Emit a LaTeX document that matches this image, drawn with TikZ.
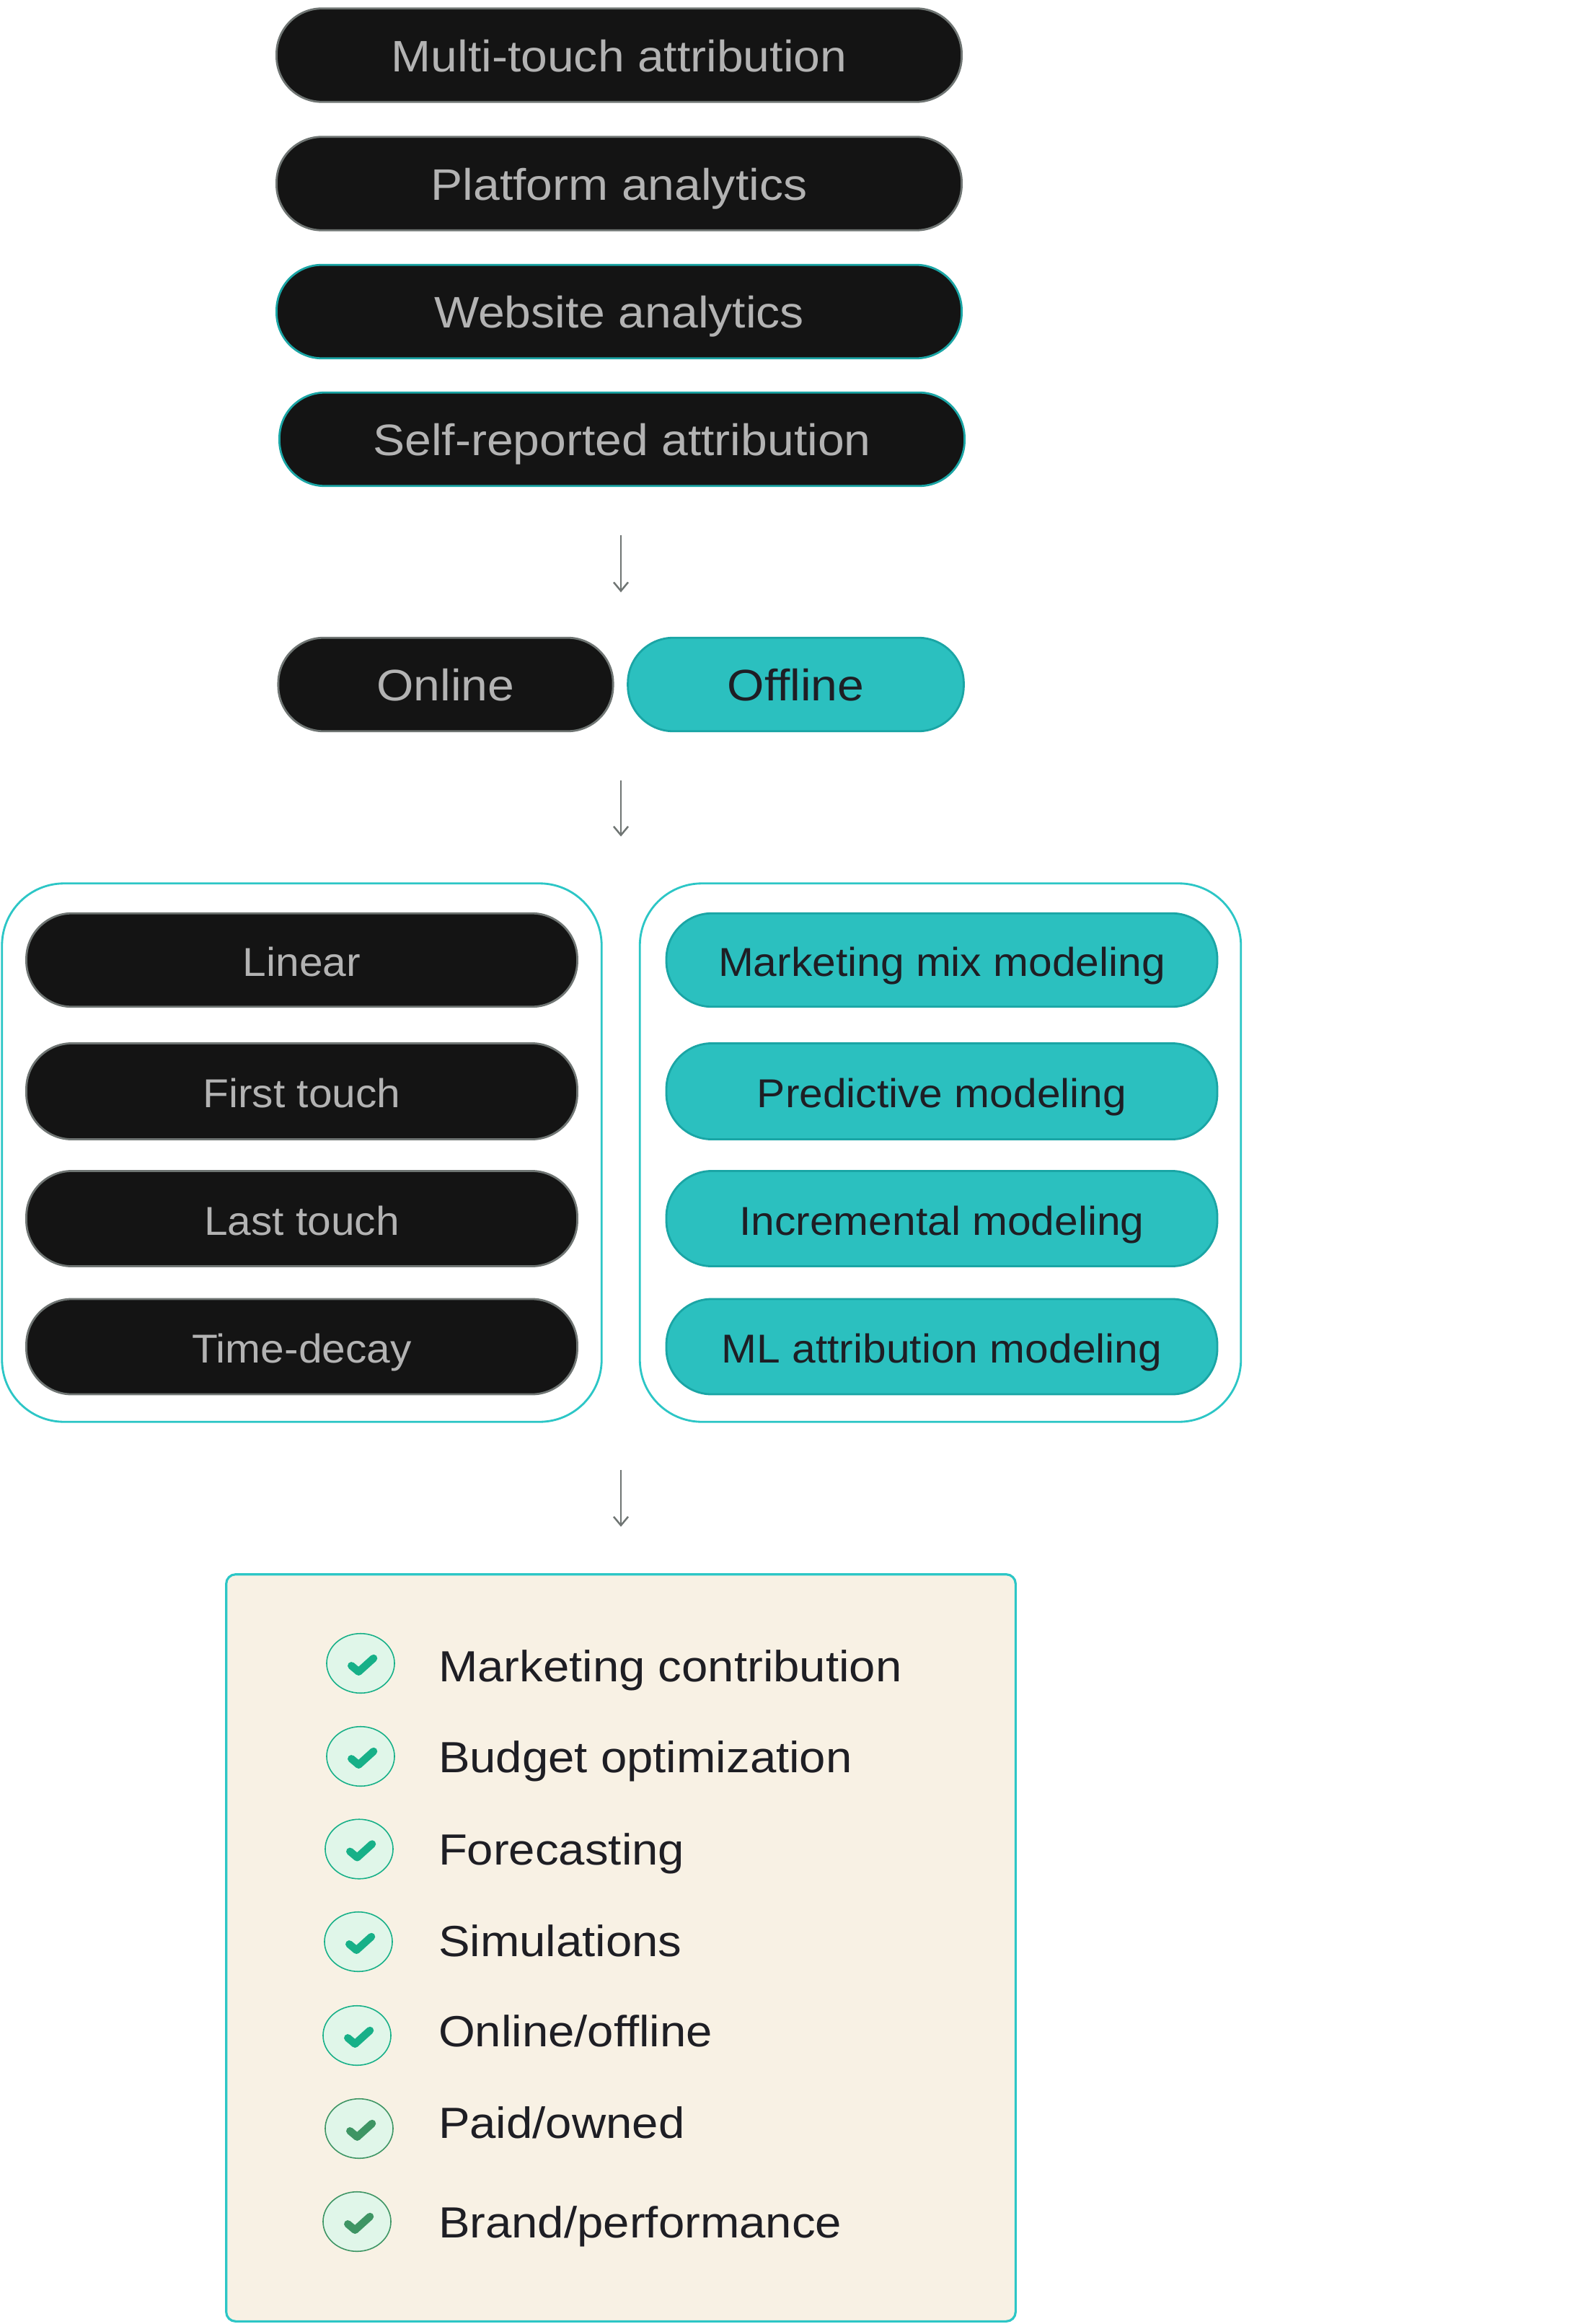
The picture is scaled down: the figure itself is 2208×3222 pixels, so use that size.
\documentclass[tikz,border=0pt]{standalone}
\usepackage{fontspec}
\usetikzlibrary{arrows.meta,shapes.geometric}
\setmainfont[FakeStretch=1.05]{Liberation Sans}
\newfontfamily\widefont[FakeStretch=1.08]{Liberation Sans}
\definecolor{pilldark}{HTML}{141414}
\definecolor{pillgrey}{HTML}{6F7573}
\definecolor{labelgrey}{HTML}{B3B3B3}
\definecolor{labeldark}{HTML}{1E1E24}
\definecolor{tealfill}{HTML}{2BC0BF}
\definecolor{tealedge}{HTML}{1AA5A5}
\definecolor{tealline}{HTML}{2CC6C6}
\definecolor{cream}{HTML}{F8F1E4}
\definecolor{tickbg}{HTML}{E0F6E9}
\definecolor{tickteal}{HTML}{17B088}
\definecolor{tickgreen}{HTML}{3E9564}
\definecolor{arrowgrey}{HTML}{6F7573}
\tikzset{
  pill/.style={rectangle,rounded corners=.63cm,line width=.8pt,inner sep=0pt,outer sep=0pt,minimum height=1.295cm,text height=.57cm,text depth=.12cm},
  darkpill/.style={pill,draw=pillgrey,fill=pilldark,text=labelgrey},
  darkpilledge/.style={darkpill,draw=tealedge},
  tealpill/.style={pill,draw=tealedge,fill=tealfill,text=labeldark},
  bigtext/.style={font=\widefont\fontsize{17.4}{20}\selectfont},
  smalltext/.style={font=\fontsize{15.9}{19}\selectfont},
  groupbox/.style={rectangle,draw=tealline,line width=.8pt,rounded corners=.86cm,inner sep=0pt,outer sep=0pt},
  resultbox/.style={rectangle,draw=tealline,fill=cream,line width=.9pt,rounded corners=.13cm,inner sep=0pt,outer sep=0pt},
  ticknode/.style={ellipse,draw=tickteal,fill=tickbg,line width=.45pt,inner sep=0pt,outer sep=0pt,minimum width=.94cm,minimum height=.825cm},
  tickpath/.style={line width=.105cm,line cap=round,line join=round},
  listtext/.style={font=\widefont\fontsize{17.2}{20}\selectfont,anchor=base west,text=labeldark,inner sep=0pt,outer sep=0pt},
  flowarrow/.style={draw=arrowgrey,line width=.7pt,-{Straight Barb[length=.12cm,width=.2cm,line width=.7pt]}}
}
\newcommand{\tickmark}[2]{\draw[tickpath,#2] ([shift={(-12.7,3.3)}]#1.center)--([shift={(-2.7,11.7)}]#1.center)--([shift={(18,-7)}]#1.center);}
\begin{document}
\begin{tikzpicture}[x=.01cm,y=-.01cm]
\useasboundingbox[fill=white] (0,0) rectangle (2208,3222);
\coordinate (mid) at (861,0);
\node[darkpill,bigtext,minimum width=9.495cm] (multi) at (858.5,76.5) {Multi-touch attribution};
\node[darkpill,bigtext,minimum width=9.495cm] (platform) at (858.5,254.5) {Platform analytics};
\node[darkpilledge,bigtext,minimum width=9.495cm] (website) at (858.5,432) {Website analytics};
\node[darkpilledge,bigtext,minimum width=9.495cm] (selfrep) at (862.5,609) {Self-reported attribution};
\node[darkpill,bigtext,minimum width=4.64cm] (online) at (618,949) {Online};
\node[tealpill,bigtext,minimum width=4.655cm] (offline) at (1103.5,949) {Offline};
\node[groupbox,minimum width=8.31cm,minimum height=7.46cm] (leftgroup) at (418.5,1598) {};
\node[groupbox,minimum width=8.33cm,minimum height=7.46cm] (rightgroup) at (1304,1598) {};
\node[darkpill,smalltext,minimum width=7.635cm] (linear) at (418.5,1331) {Linear};
\node[darkpill,smalltext,minimum width=7.635cm,minimum height=1.33cm] (first) at (418.5,1513) {First touch};
\node[darkpill,smalltext,minimum width=7.635cm,minimum height=1.32cm] (last) at (418.5,1689.5) {Last touch};
\node[darkpill,smalltext,minimum width=7.635cm,minimum height=1.32cm] (decay) at (418.5,1867) {Time-decay};
\node[tealpill,smalltext,minimum width=7.635cm] (mix) at (1306,1331) {Marketing mix modeling};
\node[tealpill,smalltext,minimum width=7.635cm,minimum height=1.33cm] (predict) at (1306,1513) {Predictive modeling};
\node[tealpill,smalltext,minimum width=7.635cm,minimum height=1.32cm] (increment) at (1306,1689.5) {Incremental modeling};
\node[tealpill,smalltext,minimum width=7.635cm,minimum height=1.32cm] (mlattr) at (1306,1867) {ML attribution modeling};
\node[resultbox,minimum width=10.94cm,minimum height=10.35cm] (result) at (861,2700.5) {};
\draw[flowarrow,shorten <=.68cm,shorten >=.63cm] (selfrep.south -| mid)--(online.north -| mid);
\draw[flowarrow,shorten <=.68cm,shorten >=.65cm] (online.south -| mid)--(leftgroup.north -| mid);
\draw[flowarrow,shorten <=.67cm,shorten >=.66cm] (leftgroup.south -| mid)--(result.north -| mid);
\node[ticknode] (tick1) at (500,2306) {};\tickmark{tick1}{tickteal}
\node[ticknode] (tick2) at (500,2435) {};\tickmark{tick2}{tickteal}
\node[ticknode] (tick3) at (498,2563.5) {};\tickmark{tick3}{tickteal}
\node[ticknode] (tick4) at (497,2692) {};\tickmark{tick4}{tickteal}
\node[ticknode] (tick5) at (495,2822) {};\tickmark{tick5}{tickteal}
\node[ticknode,draw=tickgreen] (tick6) at (498,2951) {};\tickmark{tick6}{tickgreen}
\node[ticknode,draw=tickgreen] (tick7) at (495,3080) {};\tickmark{tick7}{tickgreen}
\node[listtext] (item1) at (608,2331) {Marketing contribution};
\node[listtext] (item2) at (608,2457) {Budget optimization};
\node[listtext] (item3) at (608,2585) {Forecasting};
\node[listtext] (item4) at (608,2712) {Simulations};
\node[listtext] (item5) at (608,2837) {Online/offline};
\node[listtext] (item6) at (608,2964) {Paid/owned};
\node[listtext] (item7) at (608,3102) {Brand/performance};
\end{tikzpicture}
\end{document}
